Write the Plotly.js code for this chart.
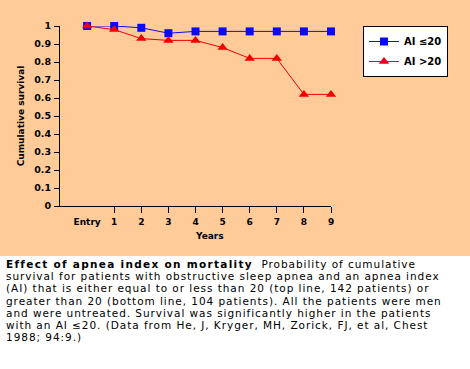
<!DOCTYPE html>
<html>
<head>
<meta charset="utf-8">
<script src="https://cdn.plot.ly/plotly-3.0.1.min.js"></script>
<style>
  html, body { margin: 0; padding: 0; background: #ffffff; width: 470px; height: 369px; overflow: hidden; }
  #chart { width: 470px; height: 256px; }
  #caption { position: absolute; left: 6px; top: 258px; width: 464px;
    font-family: "DejaVu Sans", sans-serif; font-size: 10.5px; line-height: 12.2px;
    color: #000; letter-spacing: 0.95px; }
  #caption div { height: 12.2px; white-space: pre; }
  #caption b { letter-spacing: 1.3px; }
</style>
</head>
<body>
<div id="chart"></div>
<div id="caption"><div><b>Effect of apnea index on mortality</b><span>  Probability of cumulative</span></div><div>survival for patients with obstructive sleep apnea and an apnea index</div><div>(AI) that is either equal to or less than 20 (top line, 142 patients) or</div><div>greater than 20 (bottom line, 104 patients). All the patients were men</div><div>and were untreated. Survival was significantly higher in the patients</div><div>with an AI ≤20. (Data from He, J, Kryger, MH, Zorick, FJ, et al, Chest</div><div>1988; 94:9.)</div></div>
<script>
const years = [0, 1, 2, 3, 4, 5, 6, 7, 8, 9];
const tickLabels = ['Entry', '1', '2', '3', '4', '5', '6', '7', '8', '9'];
const yTickVals = [0, 0.1, 0.2, 0.3, 0.4, 0.5, 0.6, 0.7, 0.8, 0.9, 1];
const yTickLabels = ['0', '0.1', '0.2', '0.3', '0.4', '0.5', '0.6', '0.7', '0.8', '0.9', '1'];
const aiLow = [1, 1, 0.99, 0.96, 0.97, 0.97, 0.97, 0.97, 0.97, 0.97];
const aiHigh = [1, 0.98, 0.93, 0.92, 0.92, 0.88, 0.82, 0.82, 0.62, 0.62];
const seriesNames = ['AI ≤20', 'AI >20'];

const fam = 'DejaVu Sans, sans-serif';
const traces = [
  { x: years, y: aiLow, name: seriesNames[0], legendgroup: 'a', type: 'scatter', mode: 'lines+markers',
    line: { color: '#0a0af5', width: 1 }, marker: { symbol: 'square', size: 8, color: '#0a0af5' },
    cliponaxis: false },
  { x: years, y: aiHigh, name: seriesNames[1], legendgroup: 'b', type: 'scatter', mode: 'lines+markers',
    line: { color: '#f00000', width: 1 }, marker: { symbol: 'triangle-up', size: 9, color: '#f00000' },
    cliponaxis: false }
];

const layout = {
  width: 470, height: 256,
  paper_bgcolor: '#ffcc99', plot_bgcolor: '#ffcc99',
  margin: { l: 60, r: 139, t: 26, b: 50 },
  font: { family: fam, color: '#000', size: 9, weight: 'bold' },
  showlegend: true,
  legend: { x: 1.118, y: 1, xanchor: 'left', yanchor: 'top',
    bgcolor: '#ffffff', bordercolor: '#000', borderwidth: 1,
    font: { family: fam, size: 10, weight: 'bold' }, itemwidth: 30,
    traceorder: 'grouped', tracegroupgap: 1 },
  xaxis: {
    range: [-1, 9], showgrid: false, zeroline: false,
    showline: true, linecolor: '#000', linewidth: 1,
    tickvals: years, ticktext: tickLabels, ticks: '', ticklabelstandoff: 7,
    minor: { tickvals: years.slice(1), ticks: 'outside', ticklen: 6, tickcolor: '#000' },
    tickfont: { family: fam, size: 9, weight: 'bold' }
  },
  yaxis: {
    range: [0, 1], showgrid: false, zeroline: false,
    showline: true, linecolor: '#000', linewidth: 1,
    tickmode: 'array', tickvals: yTickVals, ticktext: yTickLabels,
    ticks: 'outside', ticklen: 5, tickcolor: '#000', ticklabelstandoff: 1,
    tickfont: { family: fam, size: 9.5, weight: 'bold' },
    title: { text: 'Cumulative survival', font: { family: fam, size: 9, weight: 'bold' }, standoff: 8 }
  },
  annotations: [
    { text: 'Years', xref: 'paper', yref: 'paper', x: 0.55, y: -0.167, xanchor: 'center', yanchor: 'middle',
      showarrow: false, font: { family: fam, size: 9, weight: 'bold' } }
  ]
};

Plotly.newPlot('chart', traces, layout, { displayModeBar: false, staticPlot: true });
</script>
</body>
</html>
